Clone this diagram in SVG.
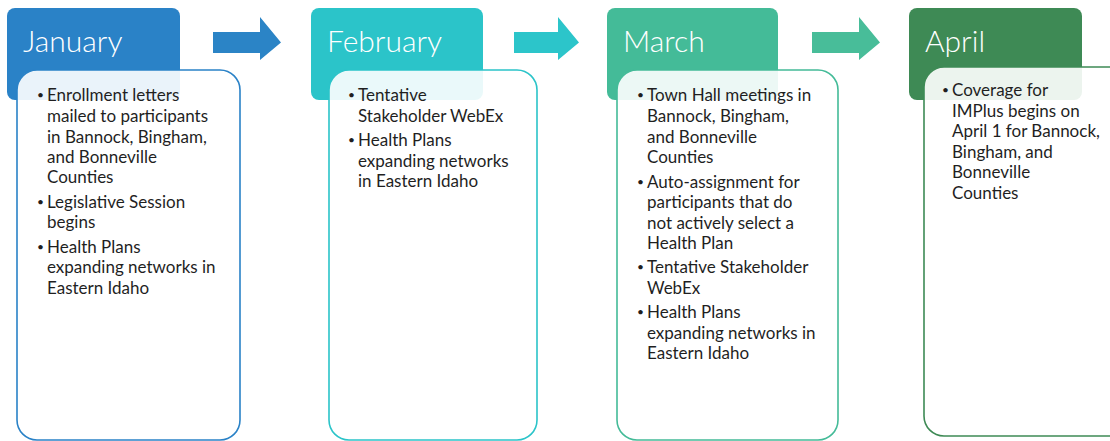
<svg xmlns="http://www.w3.org/2000/svg" width="1110" height="441" viewBox="0 0 1110 441">
<style>
.hdr{stroke:none}
.body{fill:#ffffff;fill-opacity:0.9;stroke-width:1.6}
.title{font-family:Lato,"Open Sans",sans-serif;font-weight:300;font-size:30px;fill:#ffffff}
.txt{font-family:Lato,"Noto Sans",sans-serif;font-size:17px;fill:#1f1f1f}
.b{font-size:12px}
.arrow{stroke:none}
</style>
<rect width="1110" height="441" fill="#ffffff"/>
<g id="connectors">
<polygon class="arrow" fill="#2b84c6" points="213,32 260,32 260,17 281,42.5 260,60 260,53 213,53"/>
<polygon class="arrow" fill="#2cc5ca" points="514,32 558,32 558,17 579,42.5 558,60 558,53 514,53"/>
<polygon class="arrow" fill="#48bd99" points="812,32 859,32 859,17 880,42.5 859,60 859,53 812,53"/>
</g>
<g id="january">
<rect class="hdr" x="7" y="8" width="173" height="92" rx="8" fill="#2a82c7"/>
<rect class="body" x="17" y="70" width="223" height="370" rx="20" stroke="#2a82c7"/>
<text class="title" x="23" y="52">January</text>
<text class="txt">
<tspan class="b" x="37" y="99">•</tspan><tspan x="47" y="101">Enrollment letters</tspan>
<tspan x="47" y="122">mailed to participants</tspan>
<tspan x="47" y="143">in Bannock, Bingham,</tspan>
<tspan x="47" y="163">and Bonneville</tspan>
<tspan x="47" y="183">Counties</tspan>
<tspan class="b" x="37" y="206">•</tspan><tspan x="47" y="208">Legislative Session</tspan>
<tspan x="47" y="228">begins</tspan>
<tspan class="b" x="37" y="251">•</tspan><tspan x="47" y="253">Health Plans</tspan>
<tspan x="47" y="273">expanding networks in</tspan>
<tspan x="47" y="294">Eastern Idaho</tspan>
</text>
</g>
<g id="february">
<rect class="hdr" x="311" y="8" width="172" height="92" rx="8" fill="#2bc4c9"/>
<rect class="body" x="329" y="70" width="208" height="370" rx="20" stroke="#2bc4c9"/>
<text class="title" x="327" y="52">February</text>
<text class="txt">
<tspan class="b" x="348" y="99">•</tspan><tspan x="358" y="101">Tentative</tspan>
<tspan x="358" y="122">Stakeholder WebEx</tspan>
<tspan class="b" x="348" y="144">•</tspan><tspan x="358" y="146">Health Plans</tspan>
<tspan x="358" y="167">expanding networks</tspan>
<tspan x="358" y="187">in Eastern Idaho</tspan>
</text>
</g>
<g id="march">
<rect class="hdr" x="607" y="8" width="171" height="92" rx="8" fill="#44bb98"/>
<rect class="body" x="617" y="70" width="221" height="370" rx="20" stroke="#44bb98"/>
<text class="title" x="623" y="52">March</text>
<text class="txt">
<tspan class="b" x="637" y="99">•</tspan><tspan x="647" y="101">Town Hall meetings in</tspan>
<tspan x="647" y="122">Bannock, Bingham,</tspan>
<tspan x="647" y="143">and Bonneville</tspan>
<tspan x="647" y="163">Counties</tspan>
<tspan class="b" x="637" y="186">•</tspan><tspan x="647" y="188">Auto-assignment for</tspan>
<tspan x="647" y="208">participants that do</tspan>
<tspan x="647" y="229">not actively select a</tspan>
<tspan x="647" y="249">Health Plan</tspan>
<tspan class="b" x="637" y="271">•</tspan><tspan x="647" y="273">Tentative Stakeholder</tspan>
<tspan x="647" y="294">WebEx</tspan>
<tspan class="b" x="637" y="316">•</tspan><tspan x="647" y="318">Health Plans</tspan>
<tspan x="647" y="339">expanding networks in</tspan>
<tspan x="647" y="359">Eastern Idaho</tspan>
</text>
</g>
<g id="april">
<rect class="hdr" x="909" y="8" width="173" height="92" rx="8" fill="#3e8a55"/>
<rect class="body" x="924" y="67" width="210" height="369" rx="20" stroke="#3e8a55"/>
<text class="title" x="925" y="52">April</text>
<text class="txt">
<tspan class="b" x="942" y="94">•</tspan><tspan x="952" y="96">Coverage for</tspan>
<tspan x="952" y="117">IMPlus begins on</tspan>
<tspan x="952" y="137">April 1 for Bannock,</tspan>
<tspan x="952" y="158">Bingham, and</tspan>
<tspan x="952" y="178">Bonneville</tspan>
<tspan x="952" y="199">Counties</tspan>
</text>
</g>
</svg>
